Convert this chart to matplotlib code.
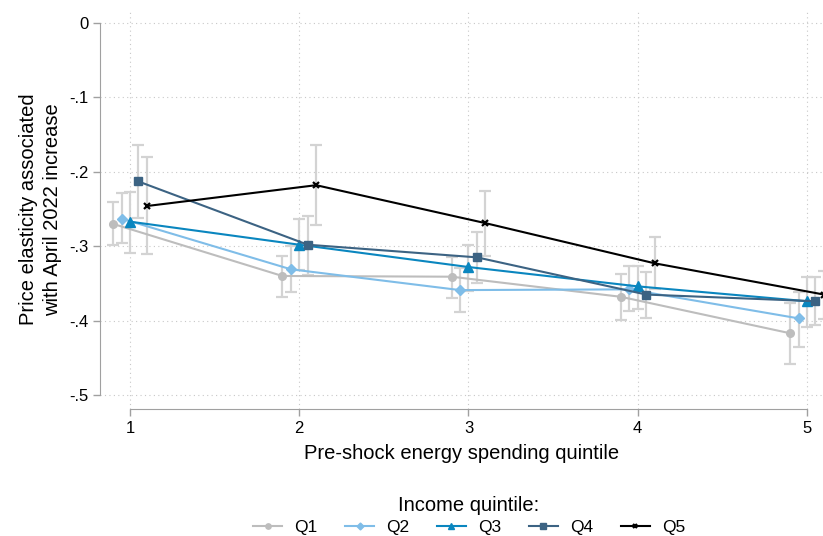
import numpy as np
import matplotlib
matplotlib.use("Agg")
import matplotlib.pyplot as plt

plt.rcParams["font.family"] = ["Liberation Sans", "DejaVu Sans"]

# -------------------------------------------
# Datos
# -------------------------------------------
quintiles = [1, 2, 3, 4, 5]
labels = ["Q1", "Q2", "Q3", "Q4", "Q5"]

q1_est = [-0.270, -0.340, -0.341, -0.368, -0.417]
q1_hi  = [-0.241, -0.313, -0.314, -0.337, -0.376]
q1_lo  = [-0.298, -0.368, -0.370, -0.399, -0.459]

q2_est = [-0.263, -0.331, -0.359, -0.358, -0.397]
q2_hi  = [-0.229, -0.300, -0.329, -0.327, -0.362]
q2_lo  = [-0.296, -0.361, -0.388, -0.387, -0.436]

q3_est = [-0.267, -0.298, -0.328, -0.354, -0.374]
q3_hi  = [-0.227, -0.263, -0.298, -0.326, -0.341]
q3_lo  = [-0.309, -0.332, -0.360, -0.385, -0.409]

q4_est = [-0.213, -0.298, -0.315, -0.365, -0.374]
q4_hi  = [-0.164, -0.259, -0.281, -0.335, -0.342]
q4_lo  = [-0.262, -0.339, -0.350, -0.397, -0.406]

q5_est = [-0.246, -0.218, -0.269, -0.323, -0.365]
q5_hi  = [-0.180, -0.164, -0.226, -0.288, -0.334]
q5_lo  = [-0.311, -0.272, -0.313, -0.358, -0.398]

estimates = [q1_est, q2_est, q3_est, q4_est, q5_est]
upper = [q1_hi, q2_hi, q3_hi, q4_hi, q5_hi]
lower = [q1_lo, q2_lo, q3_lo, q4_lo, q5_lo]

offsets = [-0.1, -0.05, 0.0, 0.05, 0.1]
colors = ["#BDBDBD", "#7FBDE8", "#0A86BF", "#3C6383", "#000000"]
markers = ["o", "D", "^", "s", "x"]
msizes = [5.5, 5, 6.5, 5.5, 5]

yticks = [0, -0.1, -0.2, -0.3, -0.4, -0.5]
ytick_labels = ["0", "-.1", "-.2", "-.3", "-.4", "-.5"]

# -------------------------------------------
# Figura
# -------------------------------------------
W, H = 823, 536
fig = plt.figure(figsize=(W / 100, H / 100), dpi=100)
ax = fig.add_axes([100 / W, (H - 409) / H, 723 / W, (409 - 10) / H])

x = np.array(quintiles, dtype=float)

# barras de error primero
for i in range(5):
    xi = x + offsets[i]
    est = np.array(estimates[i])
    yerr = [est - np.array(lower[i]), np.array(upper[i]) - est]
    ax.errorbar(xi, est, yerr=yerr, fmt="none", ecolor="#D3D3D3",
                elinewidth=1.6, capsize=4, capthick=1.6, zorder=2)

handles = []
for i in range(5):
    xi = x + offsets[i]
    mew = 1.6 if markers[i] == "x" else 1
    h, = ax.plot(xi, estimates[i], color=colors[i], lw=1.5, marker=markers[i],
                 ms=msizes[i], mew=mew, label=labels[i], zorder=3)
    handles.append(h)

ax.set_xlim(1 - 30 / 169.25, 5 + 16 / 169.25)
ax.set_ylim(-0.5 - 14 / 744, 0 + 13 / 744)

ax.set_xticks(quintiles)
ax.set_yticks(yticks)
ax.set_yticklabels(ytick_labels)
ax.tick_params(axis="both", colors="#A0A0A0", labelcolor="black",
               labelsize=12, length=5, width=1)
ax.grid(True, linestyle=(0, (1, 3)), color="#C8C8C8", lw=0.8)
ax.set_axisbelow(True)

for s in ["top", "right"]:
    ax.spines[s].set_visible(False)
ax.spines["left"].set_color("#A0A0A0")
ax.spines["bottom"].set_color("#A0A0A0")
ax.spines["left"].set_bounds(-0.5, 0)
ax.spines["bottom"].set_bounds(1, 5)

ax.set_xlabel("Pre-shock energy spending quintile", fontsize=14.5, labelpad=6)
ax.set_ylabel("Price elasticity associated\nwith April 2022 increase",
              fontsize=14.5, labelpad=5, linespacing=1.3)

leg = fig.legend(handles=handles, labels=labels, loc="lower center",
                 bbox_to_anchor=(469 / W, -0.028), ncol=5, frameon=False,
                 title="Income quintile:", fontsize=12.5,
                 title_fontsize=14.5, handlelength=1.67, handletextpad=0.69,
                 columnspacing=1.6, markerscale=0.7)
leg._legend_box.sep = 4

fig.savefig("out.png", dpi=100)
